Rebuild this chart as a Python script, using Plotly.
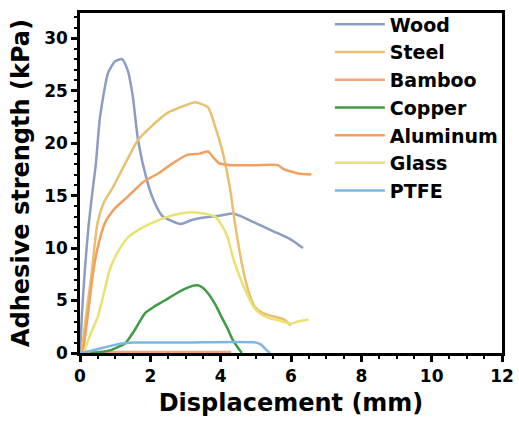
import plotly.graph_objects as go

# Data
wood_x = [0, 0.06, 0.14, 0.24, 0.34, 0.45, 0.57, 0.8, 1.0, 1.19, 1.35, 1.5, 1.65, 1.9, 2.1, 2.33, 2.6, 2.87,
          3.2, 3.64, 4.0, 4.35, 4.6, 4.92, 5.5, 6.0, 6.34]
wood_y = [0, 4, 8, 12, 15, 18, 22.5, 26.7, 27.8, 28.0, 27.0, 24.5, 20.3, 16.5, 14.5, 13.1, 12.6, 12.3,
          12.7, 12.95, 13.1, 13.3, 13.0, 12.5, 11.6, 10.8, 10.0]

steel_x = [0.05, 0.15, 0.25, 0.33, 0.5, 0.7, 0.94, 1.2, 1.65, 2.0, 2.5, 3.0, 3.27, 3.64, 3.85, 4.03,
           4.26, 4.4, 4.64, 4.8, 4.97, 5.2, 5.6, 5.8, 6.0]
steel_y = [0, 3, 5.5, 7.6, 12.4, 14.5, 15.8, 17.5, 20.3, 21.5, 22.9, 23.6, 23.9, 23.4, 21.5, 19.5,
           15.8, 12.5, 7.9, 5.8, 4.4, 3.8, 3.4, 3.2, 2.6]

bamboo_x = [0, 1.0, 2.0, 3.0, 4.3]
bamboo_y = [0.1, 0.1, 0.1, 0.1, 0.1]

copper_x = [0.3, 0.6, 0.9, 1.1, 1.28, 1.56, 1.85, 2.1, 2.41, 2.7, 2.98, 3.2, 3.35, 3.5, 3.64, 3.85,
            4.03, 4.2, 4.35, 4.6]
copper_y = [0, 0.1, 0.3, 0.6, 0.9, 2.2, 3.8, 4.4, 5.0, 5.6, 6.1, 6.4, 6.45, 6.2, 5.7, 4.6,
            3.4, 2.3, 1.2, 0]

aluminum_x = [0.08, 0.2, 0.37, 0.5, 0.71, 1.0, 1.36, 1.8, 2.22, 2.6, 3.07, 3.4, 3.64, 3.8, 3.95, 4.3,
              5.0, 5.63, 5.8, 6.0, 6.2, 6.58]
aluminum_y = [0, 3, 7.6, 10, 12.4, 13.8, 14.9, 16.3, 17.1, 18.0, 18.9, 19.0, 19.2, 18.6, 18.1, 17.9,
              17.9, 17.9, 17.5, 17.3, 17.1, 17.0]

glass_x = [0.1, 0.3, 0.5, 0.7, 0.85, 0.99, 1.2, 1.36, 1.7, 2.05, 2.5, 3.07, 3.5, 3.84, 4.06, 4.2,
           4.35, 4.55, 4.74, 4.9, 5.1, 5.4, 5.68, 5.85, 6.0, 6.2, 6.5]
glass_y = [0, 1.8, 3.4, 6, 8, 9.1, 10.3, 11, 11.8, 12.4, 13.0, 13.4, 13.3, 13.0, 12.0, 11,
           9.1, 7.2, 5.7, 4.6, 3.8, 3.3, 3.1, 2.9, 2.8, 3.0, 3.2]

ptfe_x = [0, 0.3, 0.6, 0.9, 1.2, 1.5, 3.0, 5.0, 5.15, 5.3, 5.4]
ptfe_y = [0, 0.2, 0.45, 0.7, 0.9, 1.0, 1.0, 1.0, 0.8, 0.3, 0]

series = [
    ("Wood", wood_x, wood_y, "#8c9cc2"),
    ("Steel", steel_x, steel_y, "#e8c070"),
    ("Bamboo", bamboo_x, bamboo_y, "#eaa87c"),
    ("Copper", copper_x, copper_y, "#3f9b46"),
    ("Aluminum", aluminum_x, aluminum_y, "#f2a062"),
    ("Glass", glass_x, glass_y, "#e8e272"),
    ("PTFE", ptfe_x, ptfe_y, "#7db7e0"),
]

FONT = "DejaVu Sans"

fig = go.Figure()
for name, xs, ys, col in series:
    fig.add_trace(go.Scatter(x=xs, y=ys, mode="lines", name=name,
                             line=dict(color=col, width=2.5, shape="spline", smoothing=0.6)))

axis_common = dict(
    showline=True, linecolor="black", linewidth=2.5, mirror=True,
    ticks="outside", tickwidth=2.5, tickcolor="black", ticklen=6,
    showgrid=False, zeroline=False,
    tickfont=dict(family=FONT, size=17, color="black", weight="bold"),
    minor=dict(ticks="outside", ticklen=3, tickwidth=2, tickcolor="black"),
)

fig.update_xaxes(range=[0, 12], dtick=2,
                 title=dict(text="<b>Displacement (mm)</b>", standoff=10,
                            font=dict(family=FONT, size=24, color="black")),
                 **axis_common)
fig.update_yaxes(range=[0, 32.4], dtick=5,
                 title=dict(text="<b>Adhesive strength (kPa)</b>", standoff=8,
                            font=dict(family=FONT, size=24, color="black")),
                 **axis_common)

fig.update_layout(
    width=519, height=432,
    margin=dict(l=80, r=17, t=13, b=79, autoexpand=False),
    plot_bgcolor="white", paper_bgcolor="white",
    legend=dict(x=0.592, y=1.022, xanchor="left", yanchor="top",
                itemwidth=50, tracegroupgap=0,
                bgcolor="rgba(0,0,0,0)",
                font=dict(family=FONT, size=19, color="black", weight="bold")),
)

fig.write_html("out.html")
